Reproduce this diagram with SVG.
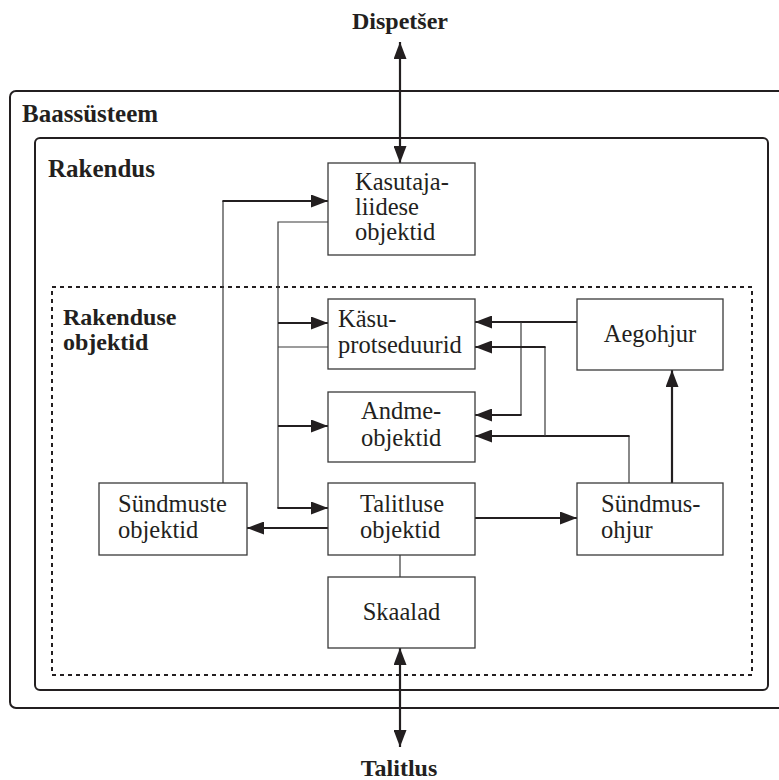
<svg xmlns="http://www.w3.org/2000/svg" width="779" height="780" viewBox="0 0 779 780">
  <style>
    .frame { fill: none; stroke: #231f20; stroke-width: 2; }
    .dotted { fill: none; stroke: #231f20; stroke-width: 2; stroke-dasharray: 4 4; }
    .box { fill: #ffffff; stroke: #3a3a3a; stroke-width: 1.3; }
    .txt { font-family: "Liberation Serif", "Times New Roman", serif; font-size: 24.5px; fill: #231f20; }
    .lbl { font-family: "Liberation Serif", "Times New Roman", serif; font-size: 24px; font-weight: bold; fill: #231f20; }
    .big { font-size: 25px; }
    .mid { text-anchor: middle; }
    .thick { fill: none; stroke: #231f20; stroke-width: 2.2; }
    .thin { fill: none; stroke: #3a3a3a; stroke-width: 1.2; }
  </style>
  <defs>
    <marker id="arrow" markerUnits="userSpaceOnUse" markerWidth="17" markerHeight="13" refX="17" refY="6.5" orient="auto-start-reverse">
      <path d="M0,0 L17,6.5 L0,13 z" fill="#231f20"/>
    </marker>
  </defs>
  <rect width="779" height="780" fill="#ffffff"/>

  <!-- nested containers -->
  <g id="baassusteem">
    <rect class="frame" x="10" y="91" width="800" height="617" rx="6"/>
    <text class="lbl big" x="22" y="122">Baassüsteem</text>
  </g>
  <g id="rakendus">
    <rect class="frame" x="35" y="138" width="733" height="552" rx="5"/>
    <text class="lbl big" x="48" y="177">Rakendus</text>
  </g>
  <g id="rakenduse-objektid">
    <rect class="dotted" x="52" y="287" width="700" height="388"/>
    <text class="lbl" x="63" y="325">Rakenduse</text>
    <text class="lbl" x="63" y="350">objektid</text>
  </g>

  <!-- external endpoints -->
  <g id="dispetser">
    <text class="lbl mid" x="400" y="29">Dispetšer</text>
  </g>
  <g id="talitlus">
    <text class="lbl mid" x="399" y="776">Talitlus</text>
  </g>

  <!-- connectors -->
  <g id="connectors">
    <line class="thick" x1="400" y1="42" x2="400" y2="163" marker-start="url(#arrow)" marker-end="url(#arrow)"/>
    <line class="thick" x1="400" y1="648" x2="400" y2="747" marker-start="url(#arrow)" marker-end="url(#arrow)"/>

    <!-- Sündmuste objektid to Kasutajaliidese objektid -->
    <polyline class="thin" points="223,483 223,201"/>
    <line class="thick" x1="222.4" y1="201" x2="328" y2="201" marker-end="url(#arrow)"/>

    <!-- Kasutajaliidese objektid bus -->
    <polyline class="thin" points="328,222 278,222 278,508"/>
    <line class="thick" x1="278" y1="323" x2="328" y2="323" marker-end="url(#arrow)"/>
    <line class="thin" x1="278" y1="347" x2="328" y2="347"/>
    <line class="thick" x1="278" y1="426" x2="328" y2="426" marker-end="url(#arrow)"/>
    <line class="thick" x1="277.4" y1="508" x2="328" y2="508" marker-end="url(#arrow)"/>

    <!-- Aegohjur to Käsuprotseduurid and Andmeobjektid -->
    <line class="thick" x1="577" y1="322" x2="475" y2="322" marker-end="url(#arrow)"/>
    <polyline class="thin" points="521,322 521,415"/>
    <line class="thick" x1="521.6" y1="415" x2="475" y2="415" marker-end="url(#arrow)"/>

    <!-- Sündmusohjur to Käsuprotseduurid and Andmeobjektid -->
    <polyline class="thin" points="629,483 629,436"/>
    <line class="thick" x1="629.6" y1="436" x2="475" y2="436" marker-end="url(#arrow)"/>
    <polyline class="thin" points="545,436 545,347"/>
    <line class="thick" x1="545.6" y1="347" x2="475" y2="347" marker-end="url(#arrow)"/>

    <!-- Sündmusohjur to Aegohjur -->
    <line class="thick" x1="672" y1="483" x2="672" y2="370" marker-end="url(#arrow)"/>

    <!-- Talitluse objektid outputs -->
    <line class="thick" x1="475" y1="518" x2="577" y2="518" marker-end="url(#arrow)"/>
    <line class="thick" x1="328" y1="528" x2="247" y2="528" marker-end="url(#arrow)"/>
    <line class="thin" x1="400" y1="555" x2="400" y2="577"/>
  </g>

  <!-- nodes -->
  <g id="kasutajaliidese-objektid">
    <rect class="box" x="328" y="163" width="147" height="92"/>
    <text class="txt" x="355" y="190">Kasutaja-</text>
    <text class="txt" x="355" y="215">liidese</text>
    <text class="txt" x="355" y="240">objektid</text>
  </g>
  <g id="kasuprotseduurid">
    <rect class="box" x="328" y="299" width="147" height="70"/>
    <text class="txt" x="338" y="327">Käsu-</text>
    <text class="txt" x="338" y="353">protseduurid</text>
  </g>
  <g id="aegohjur">
    <rect class="box" x="577" y="299" width="146" height="71"/>
    <text class="txt mid" x="650" y="342">Aegohjur</text>
  </g>
  <g id="andmeobjektid">
    <rect class="box" x="328" y="392" width="147" height="70"/>
    <text class="txt" x="361" y="419">Andme-</text>
    <text class="txt" x="361" y="446">objektid</text>
  </g>
  <g id="sundmuste-objektid">
    <rect class="box" x="99" y="483" width="148" height="72"/>
    <text class="txt" x="118" y="512">Sündmuste</text>
    <text class="txt" x="118" y="538">objektid</text>
  </g>
  <g id="talitluse-objektid">
    <rect class="box" x="328" y="483" width="147" height="72"/>
    <text class="txt" x="360" y="512">Talitluse</text>
    <text class="txt" x="360" y="538">objektid</text>
  </g>
  <g id="sundmusohjur">
    <rect class="box" x="577" y="483" width="146" height="72"/>
    <text class="txt" x="601" y="512">Sündmus-</text>
    <text class="txt" x="601" y="538">ohjur</text>
  </g>
  <g id="skaalad">
    <rect class="box" x="328" y="577" width="147" height="71"/>
    <text class="txt mid" x="401.5" y="620">Skaalad</text>
  </g>
</svg>
